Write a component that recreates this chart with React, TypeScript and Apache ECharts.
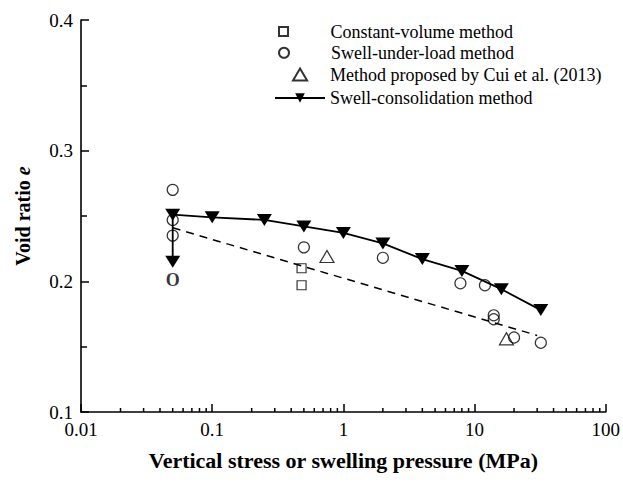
import React, { useEffect, useRef } from "react";
import * as echarts from "echarts";

// Void ratio vs. vertical stress / swelling pressure
const FONT = "Liberation Serif, Times New Roman, serif";

const xTicks = [0.01, 0.1, 1, 10, 100];
const xTickLabels = ["0.01", "0.1", "1", "10", "100"];
const xMinorTicks = [
  0.02, 0.03, 0.04, 0.05, 0.06, 0.07, 0.08, 0.09,
  0.2, 0.3, 0.4, 0.5, 0.6, 0.7, 0.8, 0.9,
  2, 3, 4, 5, 6, 7, 8, 9,
  20, 30, 40, 50, 60, 70, 80, 90,
];
const yTickLabels = ["0.1", "0.2", "0.3", "0.4"];

const seriesNames = [
  "Constant-volume method",
  "Swell-under-load method",
  "Method proposed by Cui et al. (2013)",
  "Swell-consolidation method",
];

// [stress (MPa), void ratio]
const constantVolume = [
  [0.48, 0.21],
  [0.48, 0.197],
];
const swellUnderLoad = [
  [0.05, 0.27],
  [0.05, 0.247],
  [0.05, 0.235],
  [0.5, 0.226],
  [2, 0.218],
  [7.8, 0.1985],
  [12, 0.197],
  [14, 0.174],
  [14, 0.171],
  [20, 0.157],
  [32, 0.153],
];
const cuiMethod = [
  [0.75, 0.219],
  [17.5, 0.156],
];
const swellConsolidation = [
  [0.05, 0.215],
  [0.05, 0.251],
  [0.1, 0.249],
  [0.25, 0.247],
  [0.5, 0.242],
  [1, 0.237],
  [2, 0.229],
  [4, 0.217],
  [8, 0.208],
  [16, 0.194],
  [32, 0.178],
];
const trendLine = [
  [0.05, 0.241],
  [30, 0.1586],
];
const originMark = [[0.05, 0.201]];
const originText = "O";

const hollow = { color: "rgba(0,0,0,0)", borderColor: "#000", borderWidth: 1.2 };
const triDown = "path://M0,0L20,0L10,16Z";
const squareIcon = "path://M0,0H10V10H0Z";
const triUpIcon = "path://M10,0L20,17L0,17Z";

// one legend block per row so each marker keeps its own size
const legendRows = [
  { name: seriesNames[0], icon: squareIcon, left: 278, height: 9, center: 31.5, textPad: 17 },
  { name: seriesNames[1], icon: "circle", left: 278, height: 10, center: 52.7, textPad: 17 },
  { name: seriesNames[2], icon: triUpIcon, left: 292, height: 12, center: 74.5, textPad: 0 },
  { name: seriesNames[3], icon: undefined, left: 274, height: 12, center: 98, textPad: 0 },
];

export default function App() {
  const ref = useRef<HTMLDivElement>(null);

  useEffect(() => {
    document.body.style.margin = "0";
    const chart = echarts.init(ref.current!, undefined, { renderer: "svg" });
    chart.setOption({
      animation: false,
      grid: { left: 81, right: 15, top: 20, bottom: 72 },
      legend: legendRows.map((r) => ({
        orient: "vertical",
        left: r.left,
        top: r.center - 9,
        padding: 0,
        itemWidth: 50,
        itemHeight: r.height,
        symbolKeepAspect: true,
        data: [r.icon ? { name: r.name, icon: r.icon } : { name: r.name }],
        textStyle: {
          fontFamily: FONT,
          fontSize: 18,
          lineHeight: 18,
          color: "#000",
          padding: [0, 0, 0, r.textPad],
        },
        selectedMode: false,
      })),
      xAxis: {
        type: "log",
        logBase: 10,
        min: xTicks[0],
        max: xTicks[xTicks.length - 1],
        name: "Vertical stress or swelling pressure (MPa)",
        nameLocation: "middle",
        nameGap: 37,
        nameTextStyle: { fontFamily: FONT, fontSize: 22, fontWeight: "bold", color: "#000" },
        axisLine: { show: true, onZero: false, lineStyle: { color: "#000", width: 1.6 } },
        axisTick: { show: true, inside: true, length: 8, lineStyle: { color: "#000", width: 1.5 } },
        splitLine: { show: false },
        axisLabel: {
          fontFamily: FONT,
          fontSize: 19,
          color: "#000",
          margin: 8,
          formatter: (v: number) => {
            const i = xTicks.findIndex((t) => Math.abs(Math.log10(t) - Math.log10(v)) < 1e-6);
            return i >= 0 ? xTickLabels[i] : "";
          },
        },
      },
      yAxis: {
        type: "value",
        min: 0.1,
        max: 0.4,
        interval: 0.1,
        name: "{b|Void ratio }{i|e}",
        nameLocation: "middle",
        nameGap: 48,
        nameRotate: 90,
        nameTextStyle: {
          rich: {
            b: { fontFamily: FONT, fontSize: 20, fontWeight: "bold", color: "#000" },
            i: { fontFamily: FONT, fontSize: 20, fontWeight: "bold", fontStyle: "italic", color: "#000" },
          },
        },
        axisLine: { show: true, lineStyle: { color: "#000", width: 1.6 } },
        axisTick: { show: true, inside: true, length: 8, lineStyle: { color: "#000", width: 1.5 } },
        minorTick: { show: true, splitNumber: 2, length: 6, lineStyle: { color: "#000", width: 1.5 } },
        splitLine: { show: false },
        minorSplitLine: { show: false },
        axisLabel: {
          fontFamily: FONT,
          fontSize: 19,
          color: "#000",
          margin: 8,
          formatter: (v: number) => {
            const i = Math.round((v - 0.1) / 0.1);
            return yTickLabels[i] ?? "";
          },
        },
      },
      series: [
        {
          // log-spaced minor ticks along the stress axis
          type: "custom",
          silent: true,
          data: xMinorTicks.map((v) => [v, 0.1]),
          encode: { x: 0, y: 1 },
          renderItem: (_params: any, api: any) => {
            const p = api.coord([api.value(0), api.value(1)]);
            return {
              type: "line",
              shape: { x1: p[0], y1: p[1], x2: p[0], y2: p[1] - 4 },
              style: { stroke: "#000", lineWidth: 1.5 },
            };
          },
        },
        {
          name: "trend",
          type: "line",
          data: trendLine,
          symbol: "none",
          lineStyle: { color: "#000", width: 1.5, type: [8, 6] },
        },
        {
          name: seriesNames[0],
          type: "scatter",
          data: constantVolume,
          symbol: "rect",
          symbolSize: 9,
          itemStyle: hollow,
        },
        {
          name: seriesNames[1],
          type: "scatter",
          data: swellUnderLoad,
          symbol: "circle",
          symbolSize: 11,
          itemStyle: hollow,
        },
        {
          name: seriesNames[2],
          type: "scatter",
          data: cuiMethod,
          symbol: "triangle",
          symbolSize: [14, 12],
          itemStyle: hollow,
        },
        {
          name: seriesNames[3],
          type: "line",
          data: swellConsolidation,
          symbol: triDown,
          symbolSize: [15, 12],
          showAllSymbol: true,
          itemStyle: { color: "#000" },
          lineStyle: { color: "#000", width: 1.8 },
          z: 4,
        },
        {
          name: "origin",
          type: "scatter",
          data: originMark,
          symbolSize: 0,
          silent: true,
          label: {
            show: true,
            position: "inside",
            formatter: () => originText,
            fontFamily: FONT,
            fontSize: 18,
            fontWeight: "bold",
            color: "#000",
          },
          z: 5,
        },
      ],
    });
    return () => chart.dispose();
  }, []);

  return <div ref={ref} style={{ width: 623, height: 484, background: "#fff" }} />;
}
